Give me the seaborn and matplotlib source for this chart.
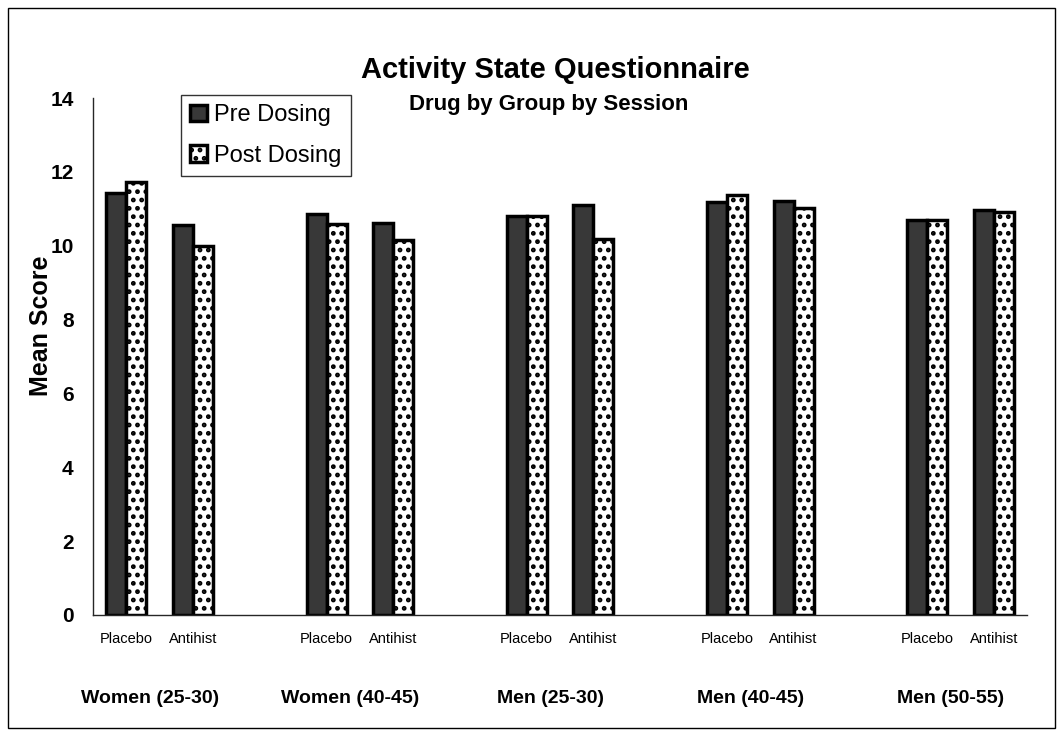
import pandas as pd
import numpy as np
import matplotlib
matplotlib.use("Agg")
import matplotlib.pyplot as plt
import seaborn as sns
from matplotlib.patches import Rectangle

groups = ["Women (25-30)", "Women (40-45)", "Men (25-30)", "Men (40-45)", "Men (50-55)"]
drugs = ["Placebo", "Antihist"]
sessions = ["Pre Dosing", "Post Dosing"]
pre_dosing = [11.43, 10.55, 10.87, 10.61, 10.80, 11.10, 11.18, 11.22, 10.70, 10.98]
post_dosing = [11.73, 9.99, 10.60, 10.16, 10.80, 10.18, 11.38, 11.02, 10.70, 10.92]

slots = []
for g in groups:
    for d in drugs:
        slots.append(g + "|" + d)
slot_order = []
for i, g in enumerate(groups):
    slot_order += [g + "|" + d for d in drugs]
    if i < len(groups) - 1:
        slot_order.append("gap%d" % i)

data = pd.DataFrame({
    "slot": slots * 2,
    "session": [sessions[0]] * len(slots) + [sessions[1]] * len(slots),
    "score": pre_dosing + post_dosing,
})

sns.set_style("white")
plt.rcParams["font.family"] = ["Liberation Sans", "DejaVu Sans"]
plt.rcParams["text.color"] = "black"
plt.rcParams["axes.labelcolor"] = "black"
plt.rcParams["xtick.color"] = "black"
plt.rcParams["ytick.color"] = "black"
plt.rcParams["hatch.linewidth"] = 2.2

fig = plt.figure(figsize=(10.62, 7.32), dpi=100)
ax = fig.add_axes([0.0876, 0.160, 0.8795, 0.706])

sns.barplot(data=data, x="slot", y="score", hue="session", order=slot_order,
            hue_order=sessions, width=0.6, palette=["#383838", "white"],
            edgecolor="black", linewidth=2.5, ax=ax, legend=False)

for bar in ax.containers[1]:
    bar.set_hatch("..")
    bar.set_facecolor("white")

ax.set_xlim(-0.5, len(slot_order) - 0.5)
ax.set_ylim(0, 14)
ax.set_yticks(range(0, 15, 2))
ax.tick_params(axis="y", direction="out", length=6, width=1, labelsize=15, pad=8)
for lab in ax.get_yticklabels():
    lab.set_fontweight("bold")

centers = [i for i, s in enumerate(slot_order) if not s.startswith("gap")]
ax.set_xticks(centers)
ax.set_xticklabels([s.split("|")[1] for s in slot_order if not s.startswith("gap")], fontsize=10.5)
ax.tick_params(axis="x", length=0, pad=12)
ax.set_xticks(np.arange(-0.5, len(slot_order), 1.0), minor=True)
ax.tick_params(axis="x", which="minor", direction="inout", length=9, width=1)
ax.set_xlabel("")

for i, g in enumerate(groups):
    mid = (centers[2 * i] + centers[2 * i + 1]) / 2 - 0.15
    ax.text(mid, -0.162, g, transform=ax.get_xaxis_transform(), ha="center", va="center",
            fontsize=14, fontweight="bold")

ax.set_ylabel("Mean Score", fontsize=18, fontweight="bold")
ax.yaxis.set_label_coords(-0.043, 0.56)

for side in ["top", "right"]:
    ax.spines[side].set_visible(False)
ax.spines["left"].set_linewidth(1)
ax.spines["bottom"].set_linewidth(1)

fig.text(0.523, 0.905, "Activity State Questionnaire", ha="center", va="center",
         fontsize=21, fontweight="bold")
fig.text(0.517, 0.857, "Drug by Group by Session", ha="center", va="center",
         fontsize=16, fontweight="bold")

leg = ax.legend(handles=list(ax.containers), labels=sessions, loc="upper left",
                bbox_to_anchor=(181 / 1062, 1 - 95 / 732), bbox_transform=fig.transFigure,
                fontsize=17, frameon=True, fancybox=False, edgecolor="black",
                handlelength=0.7, handleheight=0.7, handletextpad=0.3,
                labelspacing=0.78, borderpad=0.4, borderaxespad=0)
leg.get_frame().set_linewidth(1)

fig.patches.append(Rectangle((8 / 1062, 1 - 728 / 732), 1047 / 1062, 720 / 732,
                             transform=fig.transFigure, fill=False, edgecolor="black",
                             linewidth=1))

fig.savefig("out.png", dpi=100)
